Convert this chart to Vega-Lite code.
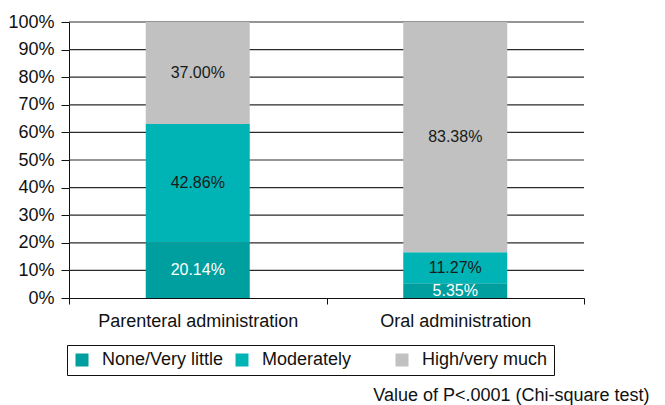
{
  "$schema": "https://vega.github.io/schema/vega-lite/v6.json",
  "autosize": {"type": "none"},
  "padding": {"left": 69, "top": 22, "right": 81, "bottom": 107},
  "width": 515,
  "height": 276,
  "background": "white",
  "config": {
    "font": "Liberation Sans",
    "view": {"stroke": null}
  },
  "title": {
    "text": "Value of P<.0001 (Chi-square test)",
    "orient": "bottom",
    "anchor": "end",
    "fontSize": 18,
    "fontWeight": "normal",
    "color": "#111",
    "offset": 11,
    "dx": 65
  },
  "datasets": {
    "shares": [
      {"admin": "Parenteral administration", "level": "None/Very little", "pct": 20.14},
      {"admin": "Parenteral administration", "level": "Moderately", "pct": 42.86},
      {"admin": "Parenteral administration", "level": "High/very much", "pct": 37.00},
      {"admin": "Oral administration", "level": "None/Very little", "pct": 5.35},
      {"admin": "Oral administration", "level": "Moderately", "pct": 11.27},
      {"admin": "Oral administration", "level": "High/very much", "pct": 83.38}
    ],
    "grid": [
      {"g": 10}, {"g": 20}, {"g": 30}, {"g": 40}, {"g": 50},
      {"g": 60}, {"g": 70}, {"g": 80}, {"g": 90}, {"g": 100}
    ]
  },
  "layer": [
    {
      "data": {"name": "grid"},
      "mark": {"type": "rule", "color": "#2a2a2a", "strokeWidth": 1.2},
      "encoding": {
        "y": {
          "field": "g",
          "type": "quantitative",
          "scale": {"domain": [0, 100]},
          "title": null,
          "axis": {
            "values": [0, 10, 20, 30, 40, 50, 60, 70, 80, 90, 100],
            "labelExpr": "datum.value + '%'",
            "labelFontSize": 18,
            "labelColor": "#111",
            "labelOverlap": false,
            "labelBound": false,
            "tickSize": 8,
            "tickColor": "#111",
            "domainColor": "#111",
            "labelPadding": 7,
            "grid": false
          }
        }
      }
    },
    {
      "data": {"name": "shares"},
      "transform": [
        {"stack": "pct", "groupby": ["admin"], "sort": [{"field": "level", "order": "descending"}], "as": ["y0", "y1"]},
        {"calculate": "(datum.y0 + datum.y1) / 2", "as": "ymid"},
        {"calculate": "format(datum.pct, '.2f') + '%'", "as": "label"}
      ],
      "encoding": {
        "x": {
          "field": "admin",
          "type": "nominal",
          "sort": ["Parenteral administration", "Oral administration"],
          "title": null,
          "scale": {"paddingInner": 0, "paddingOuter": 0},
          "axis": {
            "labelAngle": 0,
            "labelFontSize": 18,
            "labelColor": "#111",
            "labelLimit": 400,
            "tickBand": "extent",
            "tickSize": 6,
            "tickColor": "#111",
            "domainColor": "#111",
            "labelPadding": 8,
            "grid": false
          }
        }
      },
      "layer": [
        {
          "mark": {"type": "bar", "width": 104},
          "encoding": {
            "y": {
              "field": "y0",
              "type": "quantitative",
              "title": null,
              "axis": {
                "values": [0, 10, 20, 30, 40, 50, 60, 70, 80, 90, 100],
                "labelExpr": "datum.value + '%'",
                "labelFontSize": 18,
                "labelColor": "#111",
                "labelOverlap": false,
                "labelBound": false,
                "tickSize": 8,
                "tickColor": "#111",
                "domainColor": "#111",
                "labelPadding": 7,
                "grid": false
              }
            },
            "y2": {"field": "y1"},
            "color": {
              "field": "level",
              "type": "nominal",
              "scale": {
                "domain": ["None/Very little", "Moderately", "High/very much"],
                "range": ["#009F9F", "#00B3B5", "#C0C1C0"]
              },
              "legend": {
                "title": null,
                "orient": "none",
                "legendX": -2,
                "legendY": 323,
                "direction": "horizontal",
                "gridAlign": "all",
                "columnPadding": 5,
                "padding": 6,
                "strokeColor": "#111",
                "symbolType": "square",
                "symbolSize": 169,
                "symbolStrokeWidth": 0,
                "symbolOpacity": 1,
                "labelFontSize": 18,
                "labelColor": "#111",
                "labelOffset": 11,
                "labelLimit": 300
              }
            }
          }
        },
        {
          "mark": {"type": "text", "fontSize": 16, "baseline": "middle", "align": "center"},
          "encoding": {
            "y": {
              "field": "ymid",
              "type": "quantitative",
              "title": null,
              "axis": {
                "values": [0, 10, 20, 30, 40, 50, 60, 70, 80, 90, 100],
                "labelExpr": "datum.value + '%'",
                "labelFontSize": 18,
                "labelColor": "#111",
                "labelOverlap": false,
                "labelBound": false,
                "tickSize": 8,
                "tickColor": "#111",
                "domainColor": "#111",
                "labelPadding": 7,
                "grid": false
              }
            },
            "text": {"field": "label"},
            "color": {
              "condition": {"test": "datum.level === 'None/Very little'", "value": "white"},
              "value": "#1a1a1a"
            }
          }
        }
      ]
    }
  ]
}
